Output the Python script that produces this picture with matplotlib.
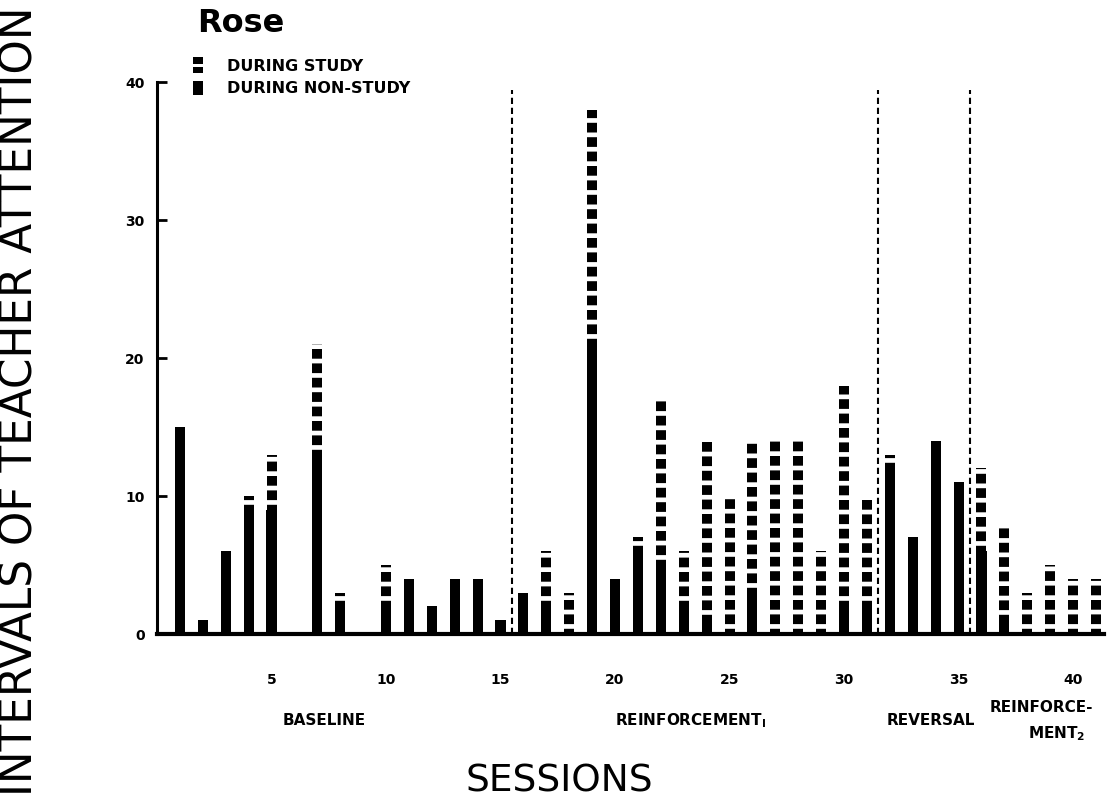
import numpy as np
import matplotlib
matplotlib.use('Agg')
import matplotlib.pyplot as plt
from matplotlib.path import Path
from matplotlib.lines import Line2D
from matplotlib.transforms import blended_transform_factory

plt.rcParams['font.family'] = ['DejaVu Sans']

# data
sessions = np.arange(1, 42)
non_study = [15, 1, 6, 9, 9, 0, 13, 2, 0, 2, 4, 2, 4, 4, 1,
             3, 2, 0, 21, 4, 6, 5, 2, 1, 0, 3, 0, 0, 0, 2, 2,
             12, 7, 14, 11,
             6, 1, 0, 0, 0, 0]
study = [0, 0, 0, 1, 4, 0, 8, 1, 0, 3, 0, 0, 0, 0, 0,
         0, 4, 3, 17, 0, 1, 12, 4, 13, 10, 11, 14, 14, 6, 16, 8,
         1, 0, 0, 0,
         6, 7, 3, 5, 4, 4]
phase_breaks = [15.5, 31.5, 35.5]
phase_names = ['BASELINE', 'REINFORCEMENT$_{\\mathregular{I}}$', 'REVERSAL']
phase_centers = [7.3, 23.3, 33.8]
xtick_vals = [5, 10, 15, 20, 25, 30, 35, 40]
ytick_vals = [0, 10, 20, 30, 40]

W, H = 1109, 801
fig = plt.figure(figsize=(W / 100, H / 100), dpi=100)
ax = fig.add_axes([157 / W, 1 - 634 / H, (1104 - 157) / W, (634 - 82) / H])

non_study = np.array(non_study)
study = np.array(study)
total = non_study + study

# solid part (non-study)
ax.bar(sessions, non_study, width=0.44, color='black', linewidth=0)
# dashed part (study) stacked on top
has_study = study > 0
ax.vlines(sessions[has_study], non_study[has_study], total[has_study],
          colors='black', linewidth=7.2, linestyles=[(0.45, (0.97, 0.47))],
          capstyle='butt')

for b in phase_breaks:
    ax.plot([b, b], [0, 39.4], color='black', lw=1.5, ls=(0, (3, 1.8)))

ax.set_xlim(0, 41.35)
ax.set_ylim(0, 40)
for s in ['top', 'right']:
    ax.spines[s].set_visible(False)
ax.spines['left'].set_linewidth(2.2)
ax.spines['bottom'].set_linewidth(3)

ax.set_yticks(ytick_vals)
ax.set_yticklabels([str(v) for v in ytick_vals], fontweight='bold', fontsize=10)
ax.tick_params(axis='y', direction='in', length=7, width=2, pad=9)
ax.set_xticks(xtick_vals)
ax.set_xticklabels([str(v) for v in xtick_vals], fontweight='bold', fontsize=10)
ax.tick_params(axis='x', length=0, pad=28)

trans = blended_transform_factory(ax.transData, ax.transAxes)
for name, c in zip(phase_names, phase_centers):
    ax.text(c, -0.157, name, transform=trans, ha='center', va='center',
            fontsize=11, fontweight='bold')
ax.text(38.6, -0.134, 'REINFORCE-', transform=trans, ha='center', va='center',
        fontsize=11, fontweight='bold')
ax.text(39.3, -0.18, 'MENT$_{\\mathregular{2}}$', transform=trans, ha='center', va='center',
        fontsize=11, fontweight='bold')

# legend with custom block markers
solid_path = Path([(-0.385, -0.5), (0.385, -0.5), (0.385, 0.5), (-0.385, 0.5), (0, 0)],
                  [Path.MOVETO, Path.LINETO, Path.LINETO, Path.LINETO, Path.CLOSEPOLY])
dash_path = Path([(-0.29, 0.09), (0.29, 0.09), (0.29, 0.5), (-0.29, 0.5), (0, 0),
                  (-0.29, -0.5), (0.29, -0.5), (0.29, -0.09), (-0.29, -0.09), (0, 0)],
                 [Path.MOVETO, Path.LINETO, Path.LINETO, Path.LINETO, Path.CLOSEPOLY] * 2)
handles = [Line2D([], [], ls='none', marker=dash_path, markersize=12,
                  color='black', markeredgewidth=0),
           Line2D([], [], ls='none', marker=solid_path, markersize=9.4,
                  color='black', markeredgewidth=0)]
fig.legend(handles, ['DURING STUDY', 'DURING NON-STUDY'], loc='upper left',
           bbox_to_anchor=(190 / W, 1 - 59 / H), frameon=False,
           prop={'weight': 'bold', 'size': 11.5}, handlelength=1.0,
           handletextpad=1.3, labelspacing=0.45, borderpad=0, borderaxespad=0)

fig.text(197 / W, 1 - 23 / H, 'Rose', fontsize=23, fontweight='bold',
         ha='left', va='center')
fig.text(20 / W, 1 - 401 / H, 'INTERVALS OF TEACHER ATTENTION', rotation=90,
         fontsize=31.5, ha='center', va='center')
fig.text(559 / W, 1 - 791 / H, 'SESSIONS', fontsize=27, ha='center', va='baseline')

fig.savefig('out.png', dpi=100, facecolor='white')
